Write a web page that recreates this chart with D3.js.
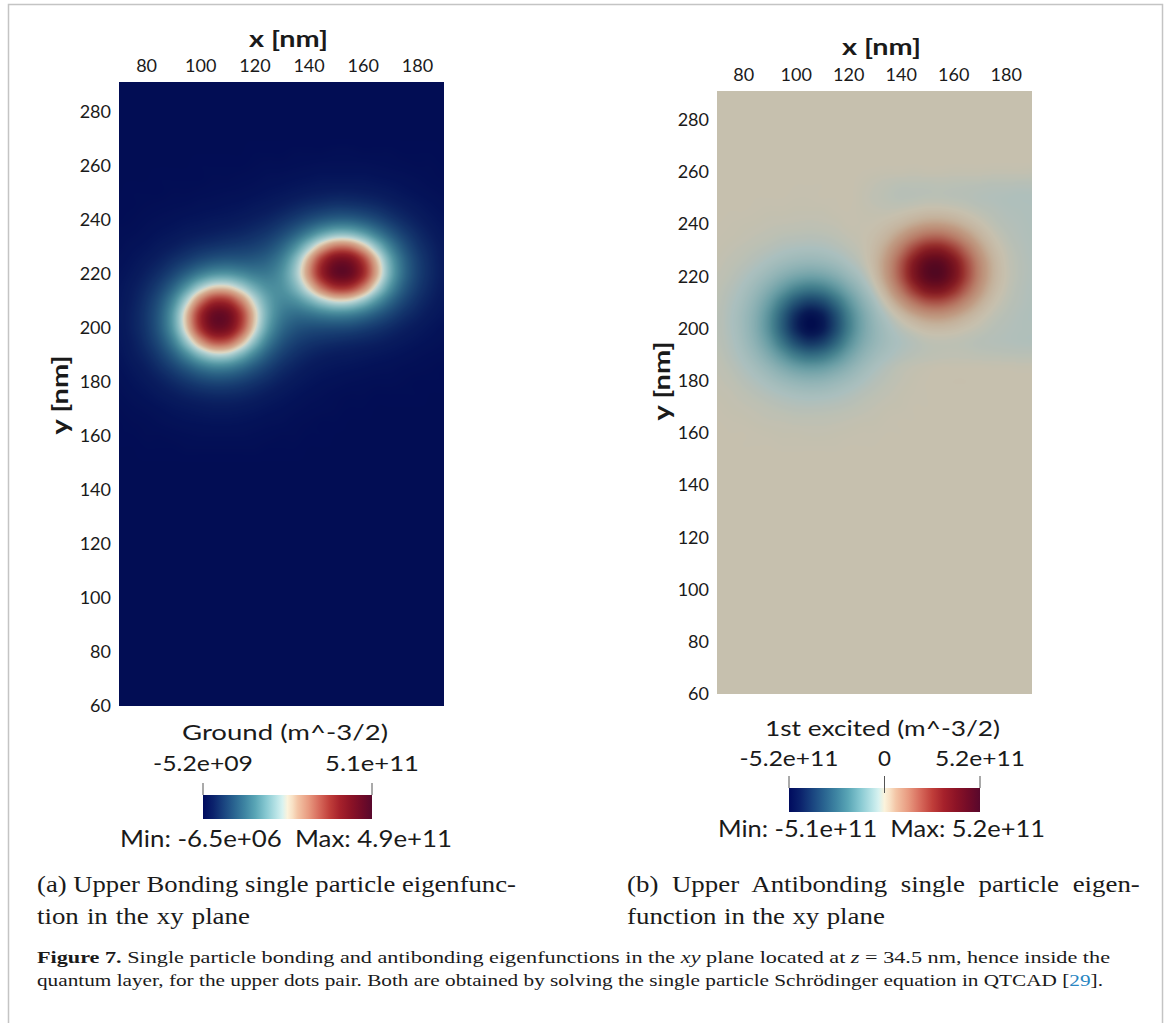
<!DOCTYPE html>
<html><head><meta charset="utf-8">
<script src="https://cdn.jsdelivr.net/npm/d3@7"></script>
<style>
html,body{margin:0;padding:0;background:#fff;}
svg{display:block;}
text{white-space:pre;}
</style></head><body>
<svg id="chart" width="1168" height="1023"></svg>
<script>
// ---------------- data ----------------
const xTicks = [80, 100, 120, 140, 160, 180];
const yTicks = [60, 80, 100, 120, 140, 160, 180, 200, 220, 240, 260, 280];
const xDomain = [70, 190];
const yDomain = [60, 291];
// sample grid (nm)
const gridX = [70,75,80,85,90,95,100,105,110,115,120,125,130,135,140,145,150,155,160,165,170,175,180,185,190];
const gridY = [150,155,160,165,170,175,180,185,190,195,200,205,210,215,220,225,230,235,240,245,250,255,260,265,270];
// Ground (bonding) eigenfunction, units of 1e10 m^-3/2, rows follow gridY
const groundGrid = [
  [0,0,0,0,0,0,0,0,0,0,0,0,0,0,0,0,0,0,0,0,0,0,0,0,0],
  [0,0,0.1,0.1,0.1,0.2,0.2,0.2,0.2,0.2,0.2,0.1,0.1,0.1,0,0,0,0,0,0,0,0,0,0,0],
  [0.1,0.1,0.2,0.2,0.3,0.4,0.5,0.5,0.5,0.5,0.4,0.3,0.2,0.2,0.1,0.1,0,0,0,0,0,0,0,0,0],
  [0.1,0.2,0.3,0.5,0.7,0.9,1.0,1.1,1.1,1.0,0.8,0.6,0.5,0.3,0.2,0.1,0.1,0,0,0,0,0,0,0,0],
  [0.2,0.4,0.6,0.9,1.3,1.6,1.9,2.1,2.1,1.9,1.6,1.2,0.9,0.6,0.4,0.3,0.2,0.1,0.1,0,0,0,0,0,0],
  [0.4,0.7,1.1,1.7,2.3,3.0,3.5,3.8,3.8,3.5,2.9,2.2,1.6,1.1,0.7,0.5,0.3,0.2,0.2,0.1,0.1,0.1,0.1,0,0],
  [0.6,1.1,1.8,2.7,3.9,5.2,6.4,7.1,7.0,6.2,5.0,3.8,2.7,1.9,1.3,0.9,0.7,0.5,0.4,0.3,0.3,0.2,0.1,0.1,0.1],
  [0.9,1.6,2.6,4.2,6.3,8.9,11.5,13.1,12.9,11.1,8.5,6.1,4.2,3.0,2.1,1.6,1.3,1.1,0.9,0.7,0.6,0.4,0.3,0.2,0.1],
  [1.2,2.2,3.6,6.0,9.6,14.6,19.8,23.1,22.8,19.0,13.9,9.4,6.3,4.5,3.4,2.7,2.3,2.1,1.8,1.5,1.2,0.9,0.6,0.4,0.3],
  [1.5,2.6,4.6,7.9,13.4,21.5,30.2,35.9,35.4,29.0,20.5,13.3,8.8,6.4,5.2,4.6,4.2,3.8,3.4,2.9,2.3,1.7,1.2,0.8,0.5],
  [1.6,3.0,5.2,9.3,16.3,26.8,38.4,46.0,45.3,36.9,25.7,16.6,11.2,8.7,7.8,7.6,7.5,7.2,6.3,5.2,4.0,2.9,2.0,1.3,0.8],
  [1.7,3.0,5.3,9.4,16.6,27.4,39.3,47.2,46.6,38.1,26.9,18.0,13.1,11.5,12.0,13.2,14.0,13.6,11.9,9.4,6.9,4.7,3.2,2.0,1.3],
  [1.5,2.7,4.8,8.3,14.2,22.8,32.4,38.8,38.5,32.1,23.7,17.3,14.5,15.2,18.4,22.4,25.1,24.7,21.2,16.0,11.0,7.1,4.5,2.8,1.7],
  [1.3,2.3,3.9,6.4,10.4,16.0,22.1,26.1,26.2,22.7,18.2,15.3,15.4,19.1,25.9,33.7,38.8,38.5,32.7,23.9,15.7,9.6,5.8,3.5,2.1],
  [1.0,1.7,2.9,4.5,6.9,10.0,13.2,15.4,15.8,14.6,13.1,12.9,15.3,21.2,30.5,40.9,47.8,47.6,40.1,29.0,18.6,11.2,6.6,3.9,2.3],
  [0.7,1.2,2.0,3.0,4.4,5.9,7.5,8.7,9.2,9.1,9.3,10.4,13.5,19.6,28.7,38.6,45.2,45.0,38.0,27.6,17.8,10.8,6.4,3.8,2.2],
  [0.4,0.8,1.2,1.9,2.6,3.5,4.3,4.9,5.4,5.8,6.4,7.7,10.4,15.0,21.5,28.4,33.0,32.9,28.0,20.8,13.9,8.7,5.3,3.3,2.0],
  [0.3,0.4,0.7,1.1,1.5,2.0,2.4,2.8,3.2,3.6,4.3,5.3,7.1,9.8,13.4,17.1,19.5,19.4,16.9,13.0,9.2,6.1,4.0,2.5,1.5],
  [0.1,0.2,0.4,0.6,0.8,1.1,1.3,1.6,1.8,2.2,2.7,3.4,4.5,5.9,7.6,9.2,10.2,10.2,9.1,7.4,5.5,3.9,2.7,1.7,1.1],
  [0.1,0.1,0.2,0.3,0.4,0.5,0.7,0.8,1.0,1.2,1.6,2.0,2.6,3.4,4.2,4.8,5.3,5.2,4.8,4.1,3.2,2.4,1.7,1.1,0.7],
  [0,0.1,0.1,0.1,0.2,0.2,0.3,0.4,0.5,0.6,0.8,1.1,1.4,1.8,2.2,2.5,2.7,2.7,2.5,2.2,1.8,1.3,0.9,0.6,0.4],
  [0,0,0,0.1,0.1,0.1,0.1,0.2,0.2,0.3,0.4,0.6,0.7,0.9,1.1,1.3,1.3,1.3,1.3,1.1,0.9,0.7,0.5,0.3,0.2],
  [0,0,0,0,0,0,0.1,0.1,0.1,0.1,0.2,0.3,0.3,0.4,0.5,0.6,0.6,0.6,0.6,0.5,0.4,0.3,0.2,0.2,0.1],
  [0,0,0,0,0,0,0,0,0,0,0.1,0.1,0.1,0.2,0.2,0.2,0.3,0.3,0.2,0.2,0.2,0.1,0.1,0.1,0],
  [0,0,0,0,0,0,0,0,0,0,0,0,0,0,0,0,0,0,0,0,0,0,0,0,0]
];
// 1st excited (antibonding) eigenfunction, units of 1e10 m^-3/2, rows follow gridY
const excitedGrid = [
  [0,0,0,0,0,0,0,0,0,0,0,0,0,0,0,0,0,0,0,0,0,0,0,0,0],
  [0,0,-0.1,-0.1,-0.1,-0.2,-0.2,-0.2,-0.2,-0.2,-0.1,-0.1,-0.1,0,0,0,0,0,0,0,0,0,0,0,0],
  [0,-0.1,-0.1,-0.2,-0.3,-0.4,-0.4,-0.5,-0.5,-0.4,-0.3,-0.2,-0.2,-0.1,-0.1,0,0,0,0,0,0,0,0,0,0],
  [-0.1,-0.2,-0.3,-0.5,-0.7,-0.8,-1.0,-1.0,-1.0,-0.9,-0.7,-0.5,-0.4,-0.2,-0.1,-0.1,0,0,0,0,0,0,0,0,0],
  [-0.2,-0.4,-0.6,-0.9,-1.3,-1.7,-2.0,-2.1,-2.0,-1.8,-1.5,-1.1,-0.7,-0.4,-0.3,-0.1,-0.1,0,0,0,0,0,0,0,0],
  [-0.4,-0.6,-1.1,-1.7,-2.4,-3.1,-3.7,-4.0,-3.9,-3.4,-2.7,-1.9,-1.3,-0.8,-0.4,-0.2,-0.1,0,0,0,0,0,0,0,0],
  [-0.6,-1.0,-1.8,-2.8,-4.1,-5.6,-6.9,-7.6,-7.3,-6.1,-4.7,-3.3,-2.1,-1.3,-0.7,-0.3,-0.1,0,0.1,0.1,0,0,0,0,0],
  [-0.8,-1.5,-2.7,-4.3,-6.7,-9.8,-12.8,-14.3,-13.6,-11.0,-7.9,-5.2,-3.3,-2.0,-1.1,-0.6,-0.3,-0.1,-0.1,-0.1,-0.1,-0.2,-0.2,-0.3,-0.3],
  [-1.1,-2.1,-3.7,-6.3,-10.5,-16.3,-22.4,-25.8,-24.2,-18.9,-12.6,-7.9,-5.0,-3.4,-2.3,-1.6,-1.2,-1.0,-0.9,-1.0,-1.2,-1.3,-1.4,-1.5,-1.5],
  [-1.4,-2.5,-4.6,-8.3,-14.6,-24.1,-34.2,-39.9,-37.3,-28.3,-17.9,-10.6,-6.5,-4.2,-2.9,-1.9,-1.1,-0.9,-1.0,-1.3,-1.7,-2.0,-2.2,-2.4,-2.5],
  [-1.5,-2.8,-5.1,-9.5,-17.4,-29.4,-42.4,-49.7,-46.4,-34.7,-21.5,-12.1,-6.8,-3.8,-1.7,0.0,1.3,1.6,1.1,0.1,-0.8,-1.6,-2.1,-2.4,-2.5],
  [-1.5,-2.8,-5.1,-9.3,-17.0,-28.7,-41.4,-48.5,-45.2,-33.8,-20.8,-11.6,-5.9,-2.2,1.2,4.6,7.2,7.7,6.0,3.3,0.9,-0.8,-1.7,-2.3,-2.6],
  [-1.3,-2.5,-4.4,-7.9,-13.8,-22.6,-31.9,-37.1,-34.7,-26.2,-16.4,-9.0,-3.9,0.9,6.7,13.5,18.8,19.5,15.5,9.3,4.0,0.6,-1.1,-2.0,-2.5],
  [-1.1,-2.0,-3.5,-5.9,-9.7,-14.8,-20.2,-23.1,-21.7,-16.7,-10.7,-5.8,-1.3,4.7,13.8,25.2,34.3,35.4,28.0,17.0,7.8,2.2,-0.5,-1.8,-2.4],
  [-0.8,-1.4,-2.5,-4.0,-6.1,-8.8,-11.3,-12.6,-11.9,-9.4,-6.1,-3.1,0.9,7.7,19.0,33.8,45.5,46.9,37.0,22.5,10.4,3.3,-0.1,-1.6,-2.3],
  [-0.5,-1.0,-1.6,-2.5,-3.7,-5.0,-6.1,-6.6,-6.2,-5.0,-3.2,-1.3,1.9,8.0,18.8,32.9,44.2,45.5,35.9,21.8,10.1,3.2,-0.2,-1.6,-2.3],
  [-0.3,-0.6,-1.0,-1.5,-2.1,-2.8,-3.3,-3.5,-3.3,-2.6,-1.6,-0.5,1.6,5.9,13.4,23.4,31.4,32.3,25.5,15.5,7.0,1.9,-0.6,-1.8,-2.4],
  [-0.2,-0.3,-0.5,-0.8,-1.1,-1.5,-1.7,-1.8,-1.7,-1.3,-0.7,-0.2,0.8,3.0,7.0,12.2,16.4,16.9,13.3,7.9,3.3,0.3,-1.3,-2.1,-2.5],
  [-0.1,-0.2,-0.3,-0.4,-0.6,-0.7,-0.8,-0.9,-0.8,-0.6,-0.2,-0.2,0,0.8,2.2,4.3,6.0,6.2,4.8,2.5,0.5,-1.0,-1.9,-2.3,-2.6],
  [0,-0.1,-0.1,-0.2,-0.3,-0.3,-0.4,-0.4,-0.4,-0.2,-0.1,-0.3,-0.5,-0.6,-0.3,0.3,0.9,0.9,0.4,-0.4,-1.2,-1.8,-2.3,-2.5,-2.7],
  [0,0,0,-0.1,-0.1,-0.1,-0.2,-0.2,-0.1,-0.1,0,-0.4,-0.9,-1.3,-1.6,-1.5,-1.3,-1.3,-1.5,-1.7,-2.1,-2.3,-2.5,-2.7,-2.7],
  [0,0,0,0,0,0,-0.1,-0.1,-0.1,0,0,-0.3,-0.7,-1.1,-1.4,-1.4,-1.4,-1.3,-1.4,-1.5,-1.6,-1.8,-1.8,-1.9,-1.9],
  [0,0,0,0,0,0,0,0,0,0,0,-0.1,-0.2,-0.3,-0.3,-0.4,-0.3,-0.3,-0.4,-0.4,-0.4,-0.5,-0.5,-0.5,-0.6],
  [0,0,0,0,0,0,0,0,0,0,0,0,0,0,0,0,0,0,0,0,0,0,0,0,0],
  [0,0,0,0,0,0,0,0,0,0,0,0,0,0,0,0,0,0,0,0,0,0,0,0,0]
];
const gridUnit = 1e10;
const groundRange = [-5.2e9, 5.1e11];
const groundBarTicks = [-5.2e9, 5.1e11];
const groundMinMax = [-6.5e6, 4.9e11];
const excitedRange = [-5.2e11, 5.2e11];
const excitedBarTicks = [-5.2e11, 0, 5.2e11];
const excitedMinMax = [-5.1e11, 5.2e11];

// ---------------- styles ----------------
const cmapPos = [0, 0.06, 0.125, 0.19, 0.25, 0.31, 0.375, 0.44, 0.47, 0.5, 0.53, 0.56, 0.625, 0.69, 0.75, 0.81, 0.875, 0.94, 1];
const cmapCol = ["#000b5e","#0b226c","#1a4580","#2b6792","#3f86a3","#5aa6b6","#88c9d2","#bde6e8","#d8f2f0","#fbf3dc","#f8e0c4","#f3c5a6","#e89a80","#d6685a","#c03e3a","#a6212b","#8c1326","#720b28","#58082c"];
const SANS = "Lato, 'Open Sans', 'DejaVu Sans', sans-serif";
const SERIF = "'Liberation Serif', 'Times New Roman', Times, 'DejaVu Serif', serif";
const INK = "#1a1a1a";

const locale = d3.formatLocale({decimal: ".", thousands: ",", grouping: [3], currency: ["", ""], minus: "-"});
const fE = locale.format(".1e");
function fmtE(v) { return v === 0 ? "0" : fE(v).replace(/e([+-])(\d)$/, "e$10$2"); }

const svg = d3.select("#chart");
svg.append("rect").attr("width", 1168).attr("height", 1023).attr("fill", "#fff");
svg.append("rect").attr("x", 8.5).attr("y", 4.5).attr("width", 1154).attr("height", 1040)
  .attr("fill", "none").attr("stroke", "#c4c4c4").attr("stroke-width", 1.5);

const defs = svg.append("defs");
const grad = defs.append("linearGradient").attr("id", "cmapGrad").attr("x1", "0%").attr("x2", "100%").attr("y1", "0%").attr("y2", "0%");
cmapPos.forEach((p, i) => grad.append("stop").attr("offset", (p * 100) + "%").attr("stop-color", cmapCol[i]));

function txt(parent, s, x, y, o) {
  o = o || {};
  const t = parent.append("text").attr("x", x).attr("y", y).text(s)
    .attr("font-family", o.family || SANS).attr("font-size", o.size || 18)
    .attr("font-weight", o.weight || 400).attr("text-anchor", o.anchor || "middle")
    .attr("fill", o.fill || INK);
  if (o.len) t.attr("textLength", o.len).attr("lengthAdjust", "spacingAndGlyphs");
  if (o.transform) t.attr("transform", o.transform);
  return t;
}

function cr(p0, p1, p2, p3, t) {
  return 0.5 * ((2 * p1) + (-p0 + p2) * t + (2 * p0 - 5 * p1 + 4 * p2 - p3) * t * t + (-p0 + 3 * p1 - 3 * p2 + p3) * t * t * t);
}
function sampleGrid(grid, fx, fy) {
  const ny = grid.length, nx = grid[0].length;
  const ix = Math.floor(fx), iy = Math.floor(fy);
  const tx = fx - ix, ty = fy - iy;
  const g = (r, c) => grid[Math.max(0, Math.min(ny - 1, r))][Math.max(0, Math.min(nx - 1, c))];
  const rows = [];
  for (let k = -1; k <= 2; k++) rows.push(cr(g(iy + k, ix - 1), g(iy + k, ix), g(iy + k, ix + 1), g(iy + k, ix + 2), tx));
  return cr(rows[0], rows[1], rows[2], rows[3], ty);
}

function drawPanel(c) {
  const g = svg.append("g");
  const x = d3.scaleLinear().domain(xDomain).range([c.x0, c.x1]);
  const y = d3.scaleLinear().domain(yDomain).range([c.y1, c.y0]);
  const fxS = d3.scaleLinear().domain([gridX[0], gridX[gridX.length - 1]]).range([0, gridX.length - 1]).clamp(true);
  const fyS = d3.scaleLinear().domain([gridY[0], gridY[gridY.length - 1]]).range([0, gridY.length - 1]).clamp(true);
  const tS = d3.scaleLinear().domain(c.range).range([0, 1]).clamp(true);
  const cm = d3.scaleLinear().domain(cmapPos).range(cmapCol).interpolate(d3.interpolateRgb).clamp(true);
  const lut = [];
  for (let i = 0; i < 1024; i++) { const cc = d3.rgb(cm(i / 1023)); lut.push([cc.r * c.dim, cc.g * c.dim, cc.b * c.dim]); }

  const w = Math.round(c.x1 - c.x0), h = Math.round(c.y1 - c.y0);
  const canvas = document.createElement("canvas");
  canvas.width = w; canvas.height = h;
  const ctx = canvas.getContext("2d");
  const img = ctx.createImageData(w, h);
  for (let j = 0; j < h; j++) {
    const fy = fyS(y.invert(c.y0 + j + 0.5));
    for (let i = 0; i < w; i++) {
      const fx = fxS(x.invert(c.x0 + i + 0.5));
      const v = sampleGrid(c.grid, fx, fy) * gridUnit;
      const col = lut[Math.round(tS(v) * 1023)];
      const k = (j * w + i) * 4;
      img.data[k] = col[0]; img.data[k + 1] = col[1]; img.data[k + 2] = col[2]; img.data[k + 3] = 255;
    }
  }
  ctx.putImageData(img, 0, 0);
  g.append("image").attr("x", c.x0).attr("y", c.y0).attr("width", w).attr("height", h)
    .attr("preserveAspectRatio", "none").attr("href", canvas.toDataURL());

  const ax = g.append("g").attr("transform", `translate(0,${c.y0})`)
    .call(d3.axisTop(x).tickValues(xTicks).tickSize(0).tickPadding(10));
  const ay = g.append("g").attr("transform", `translate(${c.x0},0)`)
    .call(d3.axisLeft(y).tickValues(yTicks).tickSize(0).tickPadding(8));
  [ax, ay].forEach(a => {
    a.select(".domain").remove();
    a.selectAll("text").attr("font-family", SANS).attr("font-size", 18).attr("fill", INK);
  });
  txt(g, "x [nm]", c.xLab[0], c.xLab[1], {size: 22, weight: 700, len: 79});
  txt(g, "y [nm]", 0, 0, {size: 22, weight: 700, len: 79, transform: `translate(${c.yLab[0]},${c.yLab[1]}) rotate(-90)`});

  const b = c.bar;
  const bx = d3.scaleLinear().domain(c.range).range([b.x0, b.x1]);
  g.append("rect").attr("x", b.x0).attr("y", b.y0).attr("width", b.x1 - b.x0).attr("height", b.y1 - b.y0)
    .attr("fill", "url(#cmapGrad)");
  txt(g, c.title, c.titlePos[0], c.titlePos[1], {size: 21, len: c.titleLen});
  c.ticks.forEach((tv, i) => {
    const tx = bx(tv);
    const inner = (i > 0 && i < c.ticks.length - 1) ? 5 : 0;
    g.append("line").attr("x1", tx).attr("x2", tx).attr("y1", b.y0 - 12).attr("y2", b.y0 + inner)
      .attr("stroke", "#555").attr("stroke-width", 1);
    txt(g, fmtE(tv), tx, c.tickLabY, {size: 21, len: c.tickLens[i]});
  });
  txt(g, `Min: ${fmtE(c.minmax[0])}  Max: ${fmtE(c.minmax[1])}`, c.mmPos[0], c.mmPos[1], {size: 24, len: c.mmLen});
}

drawPanel({
  x0: 119, x1: 444, y0: 82, y1: 706, grid: groundGrid, range: groundRange, dim: 0.88,
  xLab: [288.5, 47], yLab: [68, 395],
  bar: {x0: 203, x1: 372, y0: 795, y1: 819},
  title: "Ground (m^-3/2)", titlePos: [285, 740], titleLen: 206,
  ticks: groundBarTicks, tickLabY: 771, tickLens: [100, 94],
  minmax: groundMinMax, mmPos: [286, 847], mmLen: 332
});
drawPanel({
  x0: 717, x1: 1032, y0: 91, y1: 694, grid: excitedGrid, range: excitedRange, dim: 0.79,
  xLab: [881.5, 55], yLab: [670, 381],
  bar: {x0: 789, x1: 980, y0: 788, y1: 812},
  title: "1st excited (m^-3/2)", titlePos: [882.5, 736], titleLen: 235,
  ticks: excitedBarTicks, tickLabY: 766, tickLens: [99, 13, 90],
  minmax: excitedMinMax, mmPos: [881.5, 837], mmLen: 327
});

// ---------------- sub-captions ----------------
const capA = ["(a) Upper Bonding single particle eigenfunc-", "tion in the xy plane"];
const capB = ["(b) Upper Antibonding single particle eigen-", "function in the xy plane"];
const CAP_SIZE = 24;
function capLine(s, x, y, target) {
  const t = svg.append("text").attr("font-family", SERIF).attr("font-size", CAP_SIZE).attr("fill", INK).text(s);
  const w = t.node().getComputedTextLength();
  const n = (s.match(/ /g) || []).length;
  const sc = Math.min(target / w, 1.12);
  t.attr("transform", `translate(${x},${y}) scale(${sc},1)`);
  if (n > 0) t.style("word-spacing", ((target / sc - w) / n) + "px");
}
capLine(capA[0], 37, 892, 479);
capLine(capA[1], 37, 924, 213);
capLine(capB[0], 627, 892, 513);
capLine(capB[1], 627, 924, 258);

// ---------------- figure caption ----------------
const fc1 = svg.append("text").attr("x", 37).attr("y", 963).attr("font-family", SERIF).attr("font-size", 17).attr("fill", INK)
  .attr("textLength", 1073).attr("lengthAdjust", "spacingAndGlyphs");
fc1.append("tspan").attr("font-weight", 700).text("Figure 7.");
fc1.append("tspan").text(" Single particle bonding and antibonding eigenfunctions in the ");
fc1.append("tspan").attr("font-style", "italic").text("xy");
fc1.append("tspan").text(" plane located at ");
fc1.append("tspan").attr("font-style", "italic").text("z");
fc1.append("tspan").text(" = 34.5 nm, hence inside the");
const fc2 = svg.append("text").attr("x", 37).attr("y", 986).attr("font-family", SERIF).attr("font-size", 17).attr("fill", INK)
  .attr("textLength", 1066).attr("lengthAdjust", "spacingAndGlyphs");
fc2.append("tspan").text("quantum layer, for the upper dots pair. Both are obtained by solving the single particle Schrödinger equation in QTCAD [");
fc2.append("tspan").attr("fill", "#2a86c2").text("29");
fc2.append("tspan").text("].");
</script>
</body></html>
